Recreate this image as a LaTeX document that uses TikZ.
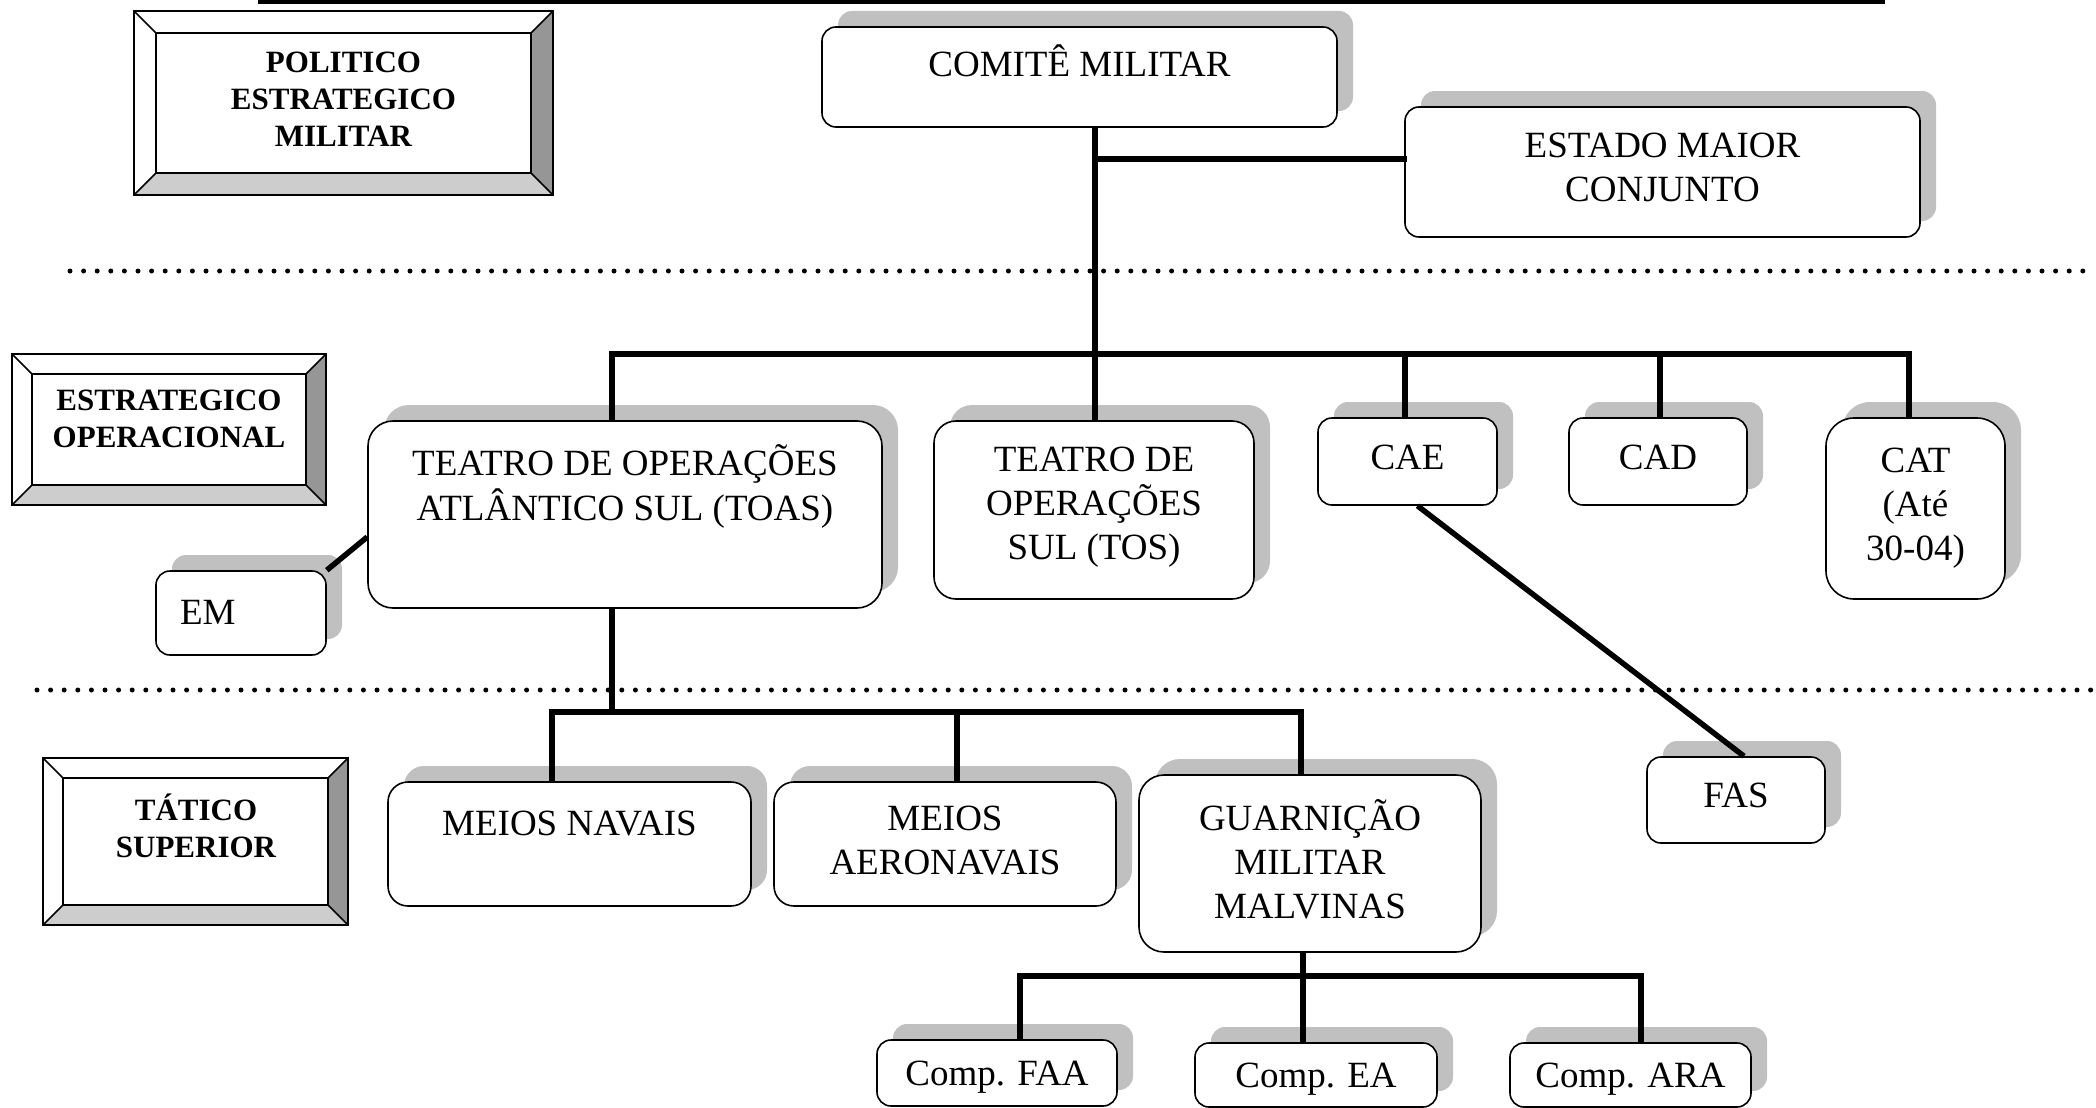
\documentclass[tikz,border=0pt]{standalone}
\usepackage{fontspec}
\setmainfont{Liberation Serif}
\usetikzlibrary{shadows}
\definecolor{shade}{HTML}{C0C0C0}
\definecolor{bevelside}{HTML}{969696}
\definecolor{bevelbase}{HTML}{CDCDCD}
\newcommand{\lift}[2]{\raisebox{#1}[\height][\depth]{\begin{tabular}{@{}c@{}}#2\end{tabular}}}
\tikzset{
  unit/.style={draw, line width=1.6pt, fill=white, rounded corners=14pt, inner sep=0pt,
    drop shadow={shadow xshift=16pt, shadow yshift=16pt, fill=shade, opacity=1},
    font={\fontsize{37}{44}\selectfont}},
  tier/.style={align=center, font={\fontsize{31}{37}\selectfont\bfseries}},
  stem/.style={line width=5.5pt},
  bar/.style={line width=6.5pt, line cap=rect},
  level/.style={line width=5pt, line cap=round, dash pattern=on 0pt off 13.6pt},
}
\begin{document}
\begin{tikzpicture}[x=1pt, y=-1pt]
  \useasboundingbox (0,0) rectangle (2096,1108);
  % top rule
  \draw[line width=5pt] (258,2) -- (1885,2);
  % level frames
  \foreach \xa/\ya/\xb/\yb/\bev in {134/11/553/195/22, 12/354/326/505/20, 43/758/348/925/20} {
    \fill[white] (\xa,\ya) rectangle (\xb,\yb);
    \fill[bevelbase] (\xa,\yb) -- (\xb,\yb) -- ({\xb-\bev},{\yb-\bev}) -- ({\xa+\bev},{\yb-\bev}) -- cycle;
    \fill[bevelside] (\xb,\ya) -- (\xb,\yb) -- ({\xb-\bev},{\yb-\bev}) -- ({\xb-\bev},{\ya+\bev}) -- cycle;
    \draw[line width=2.5pt] (\xa,\ya) rectangle (\xb,\yb)
      ({\xa+\bev},{\ya+\bev}) rectangle ({\xb-\bev},{\yb-\bev});
    \draw[line width=1.5pt] (\xa,\ya) -- ({\xa+\bev},{\ya+\bev}) (\xb,\ya) -- ({\xb-\bev},{\ya+\bev})
      (\xa,\yb) -- ({\xa+\bev},{\yb-\bev}) (\xb,\yb) -- ({\xb-\bev},{\yb-\bev});
  }
  \node[tier] (pem) at (343.5,99) {POLITICO\\ESTRATEGICO\\MILITAR};
  \node[tier] (eop) at (169,419) {ESTRATEGICO\\OPERACIONAL};
  \node[tier] (tsup) at (196,826) {TÁTICO\\SUPERIOR};
  % level separators
  \draw[level] (70,271) -- (2096,271);
  \draw[level] (37,690) -- (2096,690);
  % units
  \node[unit, minimum width=515pt, minimum height=100pt] (cm) at (1079.5,77) {\lift{10pt}{COMITÊ MILITAR}};
  \node[unit, minimum width=515pt, minimum height=130pt] (emc) at (1662.5,172) {\lift{1pt}{ESTADO MAIOR\\CONJUNTO}};
  \node[unit, rounded corners=25pt, minimum width=514pt, minimum height=187pt] (toas) at (625,514.5) {\lift{25pt}{TEATRO DE OPERAÇÕES\\ATLÂNTICO SUL (TOAS)}};
  \node[unit, rounded corners=22pt, minimum width=320pt, minimum height=178pt] (tos) at (1094,510) {\lift{3pt}{TEATRO DE\\OPERAÇÕES\\SUL (TOS)}};
  \node[unit, minimum width=179pt, minimum height=87pt] (cae) at (1407.5,461.5) {\lift{1pt}{CAE}};
  \node[unit, minimum width=178pt, minimum height=87pt] (cad) at (1658,461.5) {\lift{1pt}{CAD}};
  \node[unit, rounded corners=28pt, minimum width=179pt, minimum height=181pt] (cat) at (1915.5,508.5) {\lift{1pt}{CAT\\(Até\\30-04)}};
  \node[unit, minimum width=170pt, minimum height=84pt, inner xsep=24pt, text width=122pt, align=left] (em) at (241,613) {\raisebox{1pt}{EM}};
  \node[unit, minimum width=178pt, minimum height=86pt] (fas) at (1736,800) {\lift{1pt}{FAS}};
  \node[unit, rounded corners=20pt, minimum width=363pt, minimum height=124pt] (mn) at (569.5,844) {\lift{17pt}{MEIOS NAVAIS}};
  \node[unit, rounded corners=20pt, minimum width=342pt, minimum height=124pt] (ma) at (945,844) {\lift{0pt}{MEIOS\\AERONAVAIS}};
  \node[unit, rounded corners=25pt, minimum width=342pt, minimum height=177pt] (gmm) at (1310,863.5) {\lift{-2pt}{GUARNIÇÃO\\MILITAR\\MALVINAS}};
  \node[unit, minimum width=240pt, minimum height=66pt] (faa) at (997,1073) {\lift{-4pt}{Comp. FAA}};
  \node[unit, minimum width=242pt, minimum height=64pt] (ea) at (1316,1075) {\lift{-4pt}{Comp. EA}};
  \node[unit, minimum width=241pt, minimum height=64pt] (ara) at (1630.5,1075) {\lift{-4pt}{Comp. ARA}};
  % junctions
  \path (1095,159) coordinate (ej)
        (1095,354) coordinate (hub)
        (612,354) coordinate (tl)
        (1405,354) coordinate (caex)
        (1660,354) coordinate (cadx)
        (1909,354) coordinate (tr)
        (612,712) coordinate (lj)
        (552,712) coordinate (ll)
        (957,712) coordinate (lm)
        (1301,712) coordinate (lr)
        (1303,976) coordinate (gj)
        (1020,976) coordinate (gl)
        (1641,976) coordinate (gr);
  % links
  \draw[stem] (hub |- cm.south) -- (hub);
  \draw[bar] (ej) -- (ej -| emc.west);
  \draw[bar] (tl) -- (tr);
  \draw[stem] (tl) -- (tl |- toas.north);
  \draw[stem] (hub) -- (hub |- tos.north);
  \draw[stem] (caex) -- (caex |- cae.north);
  \draw[stem] (cadx) -- (cadx |- cad.north);
  \draw[stem] (tr) -- (tr |- cat.north);
  \draw[stem] (em.north east) -- ([yshift=-22.5pt]toas.west);
  \draw[stem] ([xshift=10pt]cae.south) -- ([xshift=8pt]fas.north);
  \draw[stem] (toas.south -| lj) -- (lj);
  \draw[bar] (ll) -- (lr);
  \draw[stem] (ll) -- (ll |- mn.north);
  \draw[stem] (lm) -- (lm |- ma.north);
  \draw[stem] (lr) -- (lr |- gmm.north);
  \draw[stem] (gmm.south -| gj) -- (gj);
  \draw[bar] (gl) -- (gr);
  \draw[stem] (gl) -- (gl |- faa.north);
  \draw[stem] (gj) -- (gj |- ea.north);
  \draw[stem] (gr) -- (gr |- ara.north);
\end{tikzpicture}
\end{document}
